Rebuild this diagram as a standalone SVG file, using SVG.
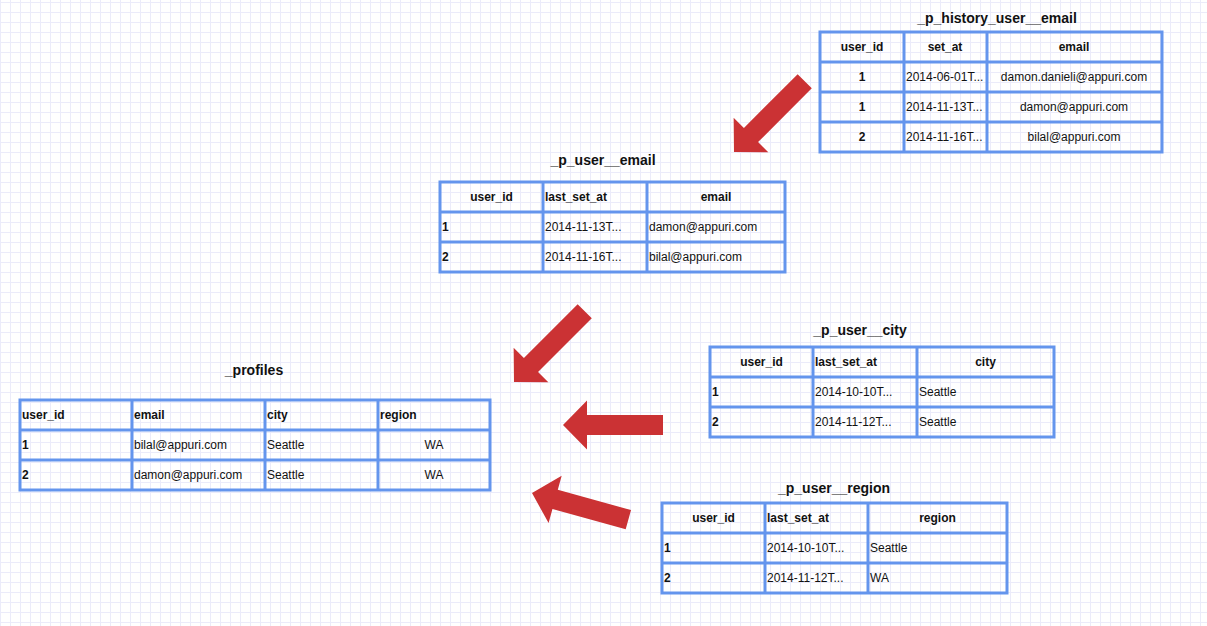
<svg xmlns="http://www.w3.org/2000/svg" width="1207" height="626" viewBox="0 0 1207 626">
<style>
text{font-family:"Liberation Sans",Arial,sans-serif;font-size:12px;fill:#111}
.t{font-size:14px;font-weight:bold;text-anchor:middle}
.h{font-weight:bold}
.b{font-weight:bold}
.c{text-anchor:middle}
.tb rect,.tb line{stroke:#6495ED;stroke-width:3;fill:none}
.arr{fill:#CB3234}
</style>
<defs>
<pattern id="g" width="10" height="10" patternUnits="userSpaceOnUse" x="0" y="2">
<rect width="10" height="1" fill="#EBEBFA"/>
<rect width="1" height="10" fill="#EBEBFA"/>
</pattern>
<polygon id="ah" points="0,0 24,-24.5 24,-10 100,-10 100,10 24,10 24,24.5"/>
</defs>
<rect width="1207" height="626" fill="#fff"/>
<rect width="1207" height="626" fill="url(#g)"/>

<g id="history_user_email" class="tb">
<text class="t" x="997" y="23">_p_history_user__email</text>
<rect x="820" y="32" width="342" height="120"/>
<line x1="820" y1="62" x2="1162" y2="62"/>
<line x1="820" y1="92" x2="1162" y2="92"/>
<line x1="820" y1="122" x2="1162" y2="122"/>
<line x1="904" y1="32" x2="904" y2="152"/>
<line x1="987" y1="32" x2="987" y2="152"/>
<text class="h c" x="862" y="51">user_id</text>
<text class="h c" x="945" y="51">set_at</text>
<text class="h c" x="1074" y="51">email</text>
<text class="b c" x="862" y="81">1</text>
<text x="906" y="81">2014-06-01T...</text>
<text class="c" x="1074" y="81">damon.danieli@appuri.com</text>
<text class="b c" x="862" y="111">1</text>
<text x="906" y="111">2014-11-13T...</text>
<text class="c" x="1074" y="111">damon@appuri.com</text>
<text class="b c" x="862" y="141">2</text>
<text x="906" y="141">2014-11-16T...</text>
<text class="c" x="1074" y="141">bilal@appuri.com</text>
</g>

<g id="user_email" class="tb">
<text class="t" x="603" y="165">_p_user__email</text>
<rect x="440" y="182" width="345" height="90"/>
<line x1="440" y1="212" x2="785" y2="212"/>
<line x1="440" y1="242" x2="785" y2="242"/>
<line x1="543" y1="182" x2="543" y2="272"/>
<line x1="647" y1="182" x2="647" y2="272"/>
<text class="h c" x="491.5" y="201">user_id</text>
<text class="h" x="545" y="201">last_set_at</text>
<text class="h c" x="716" y="201">email</text>
<text class="b" x="442" y="231">1</text>
<text x="545" y="231">2014-11-13T...</text>
<text x="649" y="231">damon@appuri.com</text>
<text class="b" x="442" y="261">2</text>
<text x="545" y="261">2014-11-16T...</text>
<text x="649" y="261">bilal@appuri.com</text>
</g>

<g id="profiles" class="tb">
<text class="t" x="254" y="375">_profiles</text>
<rect x="20" y="400" width="470" height="90"/>
<line x1="20" y1="430" x2="490" y2="430"/>
<line x1="20" y1="460" x2="490" y2="460"/>
<line x1="132" y1="400" x2="132" y2="490"/>
<line x1="265" y1="400" x2="265" y2="490"/>
<line x1="378" y1="400" x2="378" y2="490"/>
<text class="h" x="22" y="419">user_id</text>
<text class="h" x="134" y="419">email</text>
<text class="h" x="267" y="419">city</text>
<text class="h" x="380" y="419">region</text>
<text class="b" x="22" y="449">1</text>
<text x="134" y="449">bilal@appuri.com</text>
<text x="267" y="449">Seattle</text>
<text class="c" x="434" y="449">WA</text>
<text class="b" x="22" y="479">2</text>
<text x="134" y="479">damon@appuri.com</text>
<text x="267" y="479">Seattle</text>
<text class="c" x="434" y="479">WA</text>
</g>

<g id="user_city" class="tb">
<text class="t" x="860" y="335">_p_user__city</text>
<rect x="710" y="347" width="344" height="90"/>
<line x1="710" y1="377" x2="1054" y2="377"/>
<line x1="710" y1="407" x2="1054" y2="407"/>
<line x1="813" y1="347" x2="813" y2="437"/>
<line x1="917" y1="347" x2="917" y2="437"/>
<text class="h c" x="761.5" y="366">user_id</text>
<text class="h" x="815" y="366">last_set_at</text>
<text class="h c" x="985.5" y="366">city</text>
<text class="b" x="712" y="396">1</text>
<text x="815" y="396">2014-10-10T...</text>
<text x="919" y="396">Seattle</text>
<text class="b" x="712" y="426">2</text>
<text x="815" y="426">2014-11-12T...</text>
<text x="919" y="426">Seattle</text>
</g>

<g id="user_region" class="tb">
<text class="t" x="834" y="493">_p_user__region</text>
<rect x="662" y="503" width="345" height="90"/>
<line x1="662" y1="533" x2="1007" y2="533"/>
<line x1="662" y1="563" x2="1007" y2="563"/>
<line x1="765" y1="503" x2="765" y2="593"/>
<line x1="868" y1="503" x2="868" y2="593"/>
<text class="h c" x="713.5" y="522">user_id</text>
<text class="h" x="767" y="522">last_set_at</text>
<text class="h c" x="937.5" y="522">region</text>
<text class="b" x="664" y="552">1</text>
<text x="767" y="552">2014-10-10T...</text>
<text x="870" y="552">Seattle</text>
<text class="b" x="664" y="582">2</text>
<text x="767" y="582">2014-11-12T...</text>
<text x="870" y="582">WA</text>
</g>

<g id="connectors" class="arr">
<use href="#ah" transform="translate(734,152) rotate(-45)"/>
<use href="#ah" transform="translate(514,382) rotate(-45)"/>
<use href="#ah" transform="translate(563,425)"/>
<use href="#ah" transform="translate(532,493) rotate(15.5)"/>
</g>
</svg>
